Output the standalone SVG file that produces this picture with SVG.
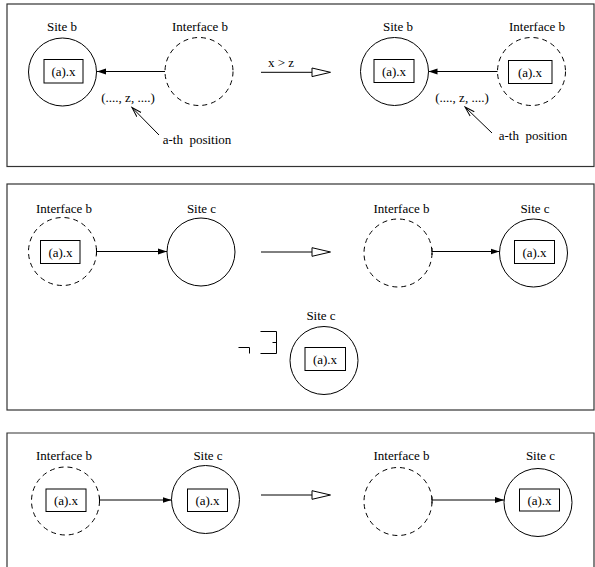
<svg xmlns="http://www.w3.org/2000/svg" width="595" height="567" viewBox="0 0 595 567">
<defs>
<style>
text{font-family:'Liberation Serif','Times New Roman','DejaVu Serif',serif;font-size:13px;fill:#000;text-anchor:middle}
.panel{fill:none;stroke:#333;stroke-width:1.2}
.site{fill:none;stroke:#000;stroke-width:1}
.iface{fill:none;stroke:#000;stroke-width:1;stroke-dasharray:5,4}
.box{fill:none;stroke:#000;stroke-width:1}
.conn{fill:none;stroke:#000;stroke-width:1}
.big{fill:none;stroke:#000;stroke-width:1}
</style>
<marker id="ah" markerUnits="userSpaceOnUse" markerWidth="10" markerHeight="8" refX="9" refY="4" orient="auto">
<path d="M0,1 L9,4 L0,7 Z" fill="#000"/>
</marker>
<marker id="ahv" markerUnits="userSpaceOnUse" markerWidth="12" markerHeight="8" refX="10" refY="4" orient="auto">
<path d="M0,1 L10,4 L0,7" fill="none" stroke="#000" stroke-width="1"/>
</marker>
<marker id="tick" markerUnits="userSpaceOnUse" markerWidth="2" markerHeight="8" refX="1" refY="4" orient="auto">
<path d="M1,0.5 L1,7.5" stroke="#000" stroke-width="1"/>
</marker>
</defs>

<g id="panels">
<rect class="panel" x="7" y="4" width="587" height="162.5"/>
<rect class="panel" x="7" y="184" width="587" height="226"/>
<path class="panel" d="M7,570 L7,433 L594,433 L594,570"/>
</g>

<g font-family="Liberation Serif, serif">
<!-- Panel 1 -->
<g id="p1-site-b-left">
<circle class="site" cx="62.5" cy="72" r="34"/>
<text x="62" y="31">Site b</text>
<rect class="box" x="44" y="59.5" width="39" height="23.5"/>
<text x="63.5" y="76">(a).x</text>
</g>
<g id="p1-iface-b-left">
<circle class="iface" cx="199" cy="71.5" r="34"/>
<text x="200" y="31">Interface b</text>
</g>
<g id="p1-site-b-right">
<circle class="site" cx="394.5" cy="71.5" r="34"/>
<text x="398" y="31">Site b</text>
<rect class="box" x="374" y="59.5" width="40" height="23"/>
<text x="394" y="76">(a).x</text>
</g>
<g id="p1-iface-b-right">
<circle class="iface" cx="531.5" cy="71.5" r="34"/>
<text x="537" y="31">Interface b</text>
<rect class="box" x="508.5" y="60.5" width="43.5" height="23"/>
<text x="530" y="77">(a).x</text>
</g>
<g id="p1-labels">
<text x="128" y="101.5">(...., z, ....)</text>
<text x="197" y="144" xml:space="preserve">a-th  position</text>
<text x="462" y="101.5">(...., z, ....)</text>
<text x="533" y="140" xml:space="preserve">a-th  position</text>
<text x="281" y="67">x &gt; z</text>
</g>

<!-- Panel 2 -->
<g id="p2-iface-b-left">
<circle class="iface" cx="62.5" cy="251.5" r="34"/>
<text x="64" y="212.5">Interface b</text>
<rect class="box" x="40.5" y="240.5" width="39.5" height="23"/>
<text x="60.5" y="256.5">(a).x</text>
</g>
<g id="p2-site-c-left">
<circle class="site" cx="201" cy="252" r="34"/>
<text x="201.5" y="212.5">Site c</text>
</g>
<g id="p2-iface-b-right">
<circle class="iface" cx="398" cy="253" r="34"/>
<text x="401.5" y="212.5">Interface b</text>
</g>
<g id="p2-site-c-right">
<circle class="site" cx="533.5" cy="253" r="34" stroke-width="1.6"/>
<text x="535" y="212.5">Site c</text>
<rect class="box" x="514.5" y="240.5" width="40" height="23"/>
<text x="534.5" y="256.5">(a).x</text>
</g>
<g id="p2-site-c-bottom">
<circle class="site" cx="324" cy="360.5" r="34"/>
<text x="321" y="319.5">Site c</text>
<rect class="box" x="305" y="347.5" width="40.5" height="23"/>
<text x="325" y="364">(a).x</text>
</g>
<g id="p2-symbols">
<path class="conn" d="M238.5,347.5 L249.5,347.5 L249.5,353.5"/>
<path class="conn" d="M260.5,331.5 L276.5,331.5 L276.5,353.5 L260.5,353.5 M272.5,342.5 L276.5,342.5"/>
</g>

<!-- Panel 3 -->
<g id="p3-iface-b-left">
<circle class="iface" cx="65.5" cy="501" r="34"/>
<text x="64" y="460">Interface b</text>
<rect class="box" x="46" y="489" width="40" height="22.5"/>
<text x="66" y="504.5">(a).x</text>
</g>
<g id="p3-site-c-left">
<circle class="site" cx="205.5" cy="499.5" r="34"/>
<text x="208" y="460">Site c</text>
<rect class="box" x="187.5" y="489" width="40" height="22.5"/>
<text x="207.5" y="504.5">(a).x</text>
</g>
<g id="p3-iface-b-right">
<circle class="iface" cx="398" cy="501.5" r="34"/>
<text x="401.5" y="460">Interface b</text>
</g>
<g id="p3-site-c-right">
<circle class="site" cx="538" cy="502.5" r="34"/>
<text x="540.5" y="460">Site c</text>
<rect class="box" x="519.5" y="489" width="40" height="22"/>
<text x="539.5" y="504.5">(a).x</text>
</g>
</g>

<g id="connectors">
<!-- panel 1 -->
<line class="conn" x1="165" y1="71.5" x2="97" y2="71.5" marker-end="url(#ah)"/>
<line class="conn" x1="497.5" y1="71.5" x2="428.5" y2="71.5" marker-end="url(#ah)"/>
<line class="conn" x1="159" y1="135" x2="132" y2="107.5" marker-end="url(#ahv)"/>
<line class="conn" x1="492" y1="133" x2="465" y2="107" marker-end="url(#ahv)"/>
<path class="big" d="M261,72.3 L312,72.3 M312,68 L330.5,72.3 L312,76.6 Z"/>
<!-- panel 2 -->
<line class="conn" x1="96.5" y1="251.5" x2="167" y2="251.5" marker-start="url(#tick)" marker-end="url(#ah)"/>
<line class="conn" x1="432" y1="251.5" x2="499.5" y2="251.5" marker-start="url(#tick)" marker-end="url(#ah)"/>
<path class="big" d="M261,252 L312,252 M312,247.7 L330.5,252 L312,256.3 Z"/>
<!-- panel 3 -->
<line class="conn" x1="99.5" y1="500" x2="171.5" y2="500" marker-start="url(#tick)" marker-end="url(#ah)"/>
<line class="conn" x1="432" y1="500" x2="504" y2="500" marker-start="url(#tick)" marker-end="url(#ah)"/>
<path class="big" d="M261,495 L312,495 M312,490.7 L330.5,495 L312,499.3 Z"/>
</g>
</svg>
